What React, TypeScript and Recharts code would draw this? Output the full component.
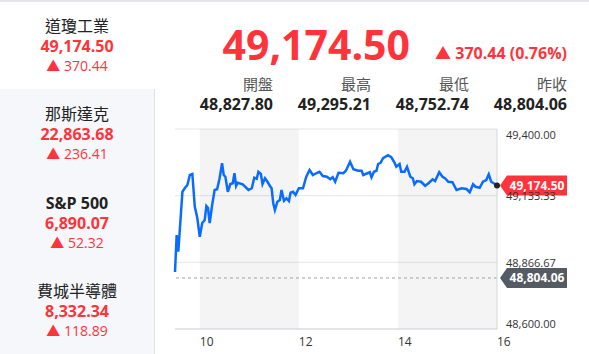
import React from 'react';
import {
  LineChart,
  Line,
  XAxis,
  YAxis,
  CartesianGrid,
  ReferenceArea,
  ReferenceLine,
  ReferenceDot,
} from 'recharts';

// minutes since 9:30 open
const minutes = [
  0, 2, 4, 9, 12, 15, 18, 21, 24, 27,
  30, 33, 36, 38, 40, 42, 45, 48, 51, 54,
  57, 59, 61, 64, 67, 70, 72, 74, 76, 82,
  89, 93, 96, 99, 101, 104, 106, 109, 112, 115,
  117, 119, 121, 124, 127, 129, 132, 135, 138, 140,
  143, 146, 150, 155, 159, 163, 167, 171, 175, 179,
  184, 188, 191, 194, 198, 204, 207, 212, 216, 222,
  226, 228, 233, 236, 238, 241, 244, 246, 249, 252,
  258, 262, 266, 268, 272, 274, 278, 281, 285, 288,
  290, 293, 298, 303, 307, 312, 315, 320, 324, 327,
  331, 336, 341, 347, 353, 357, 361, 364, 369, 373,
  377, 380, 383, 386, 390,
];

const prices = [
  48827.8, 48976, 48909, 49149, 49164, 49176, 49216, 49220, 49089, 49044,
  48969, 49024, 49036, 49092, 49084, 49024, 49096, 49156, 49159, 49203,
  49263, 49216, 49209, 49149, 49180, 49183, 49223, 49172, 49185, 49179,
  49156, 49163, 49205, 49201, 49229, 49220, 49180, 49203, 49189, 49172,
  49163, 49103, 49076, 49109, 49116, 49156, 49113, 49123, 49112, 49145,
  49149, 49136, 49163, 49163, 49209, 49236, 49216, 49223, 49229, 49212,
  49209, 49199, 49207, 49189, 49225, 49223, 49233, 49269, 49239, 49233,
  49233, 49216, 49223, 49227, 49207, 49229, 49233, 49260, 49265, 49283,
  49295, 49287, 49265, 49249, 49260, 49229, 49229, 49249, 49209, 49203,
  49179, 49192, 49189, 49173, 49183, 49199, 49192, 49227, 49209, 49203,
  49189, 49187, 49156, 49163, 49160, 49147, 49179, 49169, 49165, 49189,
  49196, 49219, 49189, 49183, 49174.5,
];

const hourTicks = [30, 150, 270, 390];
const hourLabels = ['10', '12', '14', '16'];
const shadedRanges = [
  [30, 150],
  [270, 390],
];
const priceTicks = [48600, 48866.67, 49133.33, 49400];

const lastPrice = 49174.5;
const prevClose = 48804.06;
const change = 370.44;
const changePct = 0.76;

const statLabels = ['開盤', '最高', '最低', '昨收'];
const statValues = [48827.8, 49295.21, 48752.74, 48804.06];

const indexNames = ['道瓊工業', '那斯達克', 'S&P 500', '費城半導體'];
const indexValues = [49174.5, 22863.68, 6890.07, 8332.34];
const indexChanges = [370.44, 236.41, 52.32, 118.89];

const data = minutes.map((m, i) => ({ m, price: prices[i] }));

const FONT = '"Open Sans", "Noto Sans CJK TC", sans-serif';
const RED = '#ff333a';
const fmt = (v: number) =>
  v.toLocaleString('en-US', { minimumFractionDigits: 2, maximumFractionDigits: 2 });

type TxtProps = {
  x: number;
  y: number;
  size: number;
  color: string;
  bold?: boolean;
  anchor?: 'start' | 'middle' | 'end';
  children: React.ReactNode;
};

function Txt({ x, y, size, color, bold, anchor = 'start', children }: TxtProps) {
  const shift = anchor === 'middle' ? '-50%' : anchor === 'end' ? '-100%' : '0';
  return (
    <div
      style={{
        position: 'absolute',
        left: x,
        top: y - size * 0.53,
        fontSize: size,
        lineHeight: `${size}px`,
        color,
        fontWeight: bold ? 700 : 400,
        whiteSpace: 'nowrap',
        transform: `translateX(${shift})`,
      }}
    >
      {children}
    </div>
  );
}

const Tag = (props: any) => {
  const { viewBox, fill, text } = props;
  const x0 = viewBox.x + viewBox.width + 3;
  const y = viewBox.y;
  return (
    <g>
      <path
        d={`M${x0},${y} L${x0 + 7},${y - 10} L${x0 + 67},${y - 10} L${x0 + 67},${y + 10} L${x0 + 7},${y + 10} Z`}
        fill={fill}
      />
      <text
        x={x0 + 37}
        y={y}
        textAnchor="middle"
        dominantBaseline="central"
        fill="#fff"
        fontSize={12}
        fontWeight={700}
        fontFamily={FONT}
      >
        {text}
      </text>
    </g>
  );
};

const PriceTick = (props: any) => {
  const { x, y, payload, index } = props;
  const dy = index === priceTicks.length - 1 ? 5 : index === 0 ? -6 : 0;
  return (
    <text
      x={x + 1}
      y={y + dy}
      textAnchor="start"
      dominantBaseline="central"
      fill="#333"
      fontSize={11}
      fontFamily={FONT}
    >
      {fmt(payload.value)}
    </text>
  );
};

const HourTick = (props: any) => {
  const { x, y, index } = props;
  return (
    <text x={x} y={y + 4} textAnchor="start" dominantBaseline="central" fill="#333" fontSize={12} fontFamily={FONT}>
      {hourLabels[index]}
    </text>
  );
};

export default function App() {
  const cardH = 88.5;
  const colRight = [273, 371, 469, 567];

  return (
    <div
      style={{
        position: 'absolute',
        left: 0,
        top: 0,
        width: 589,
        height: 354,
        background: '#fff',
        fontFamily: FONT,
        overflow: 'hidden',
      }}
    >
      <div style={{ position: 'absolute', left: 0, top: 0, width: 589, height: 2, background: '#e4e6ea' }} />

      {indexNames.map((name, i) => {
        const top = i * cardH;
        return (
          <React.Fragment key={name}>
            <div
              style={{
                position: 'absolute',
                left: 0,
                top: i === 0 ? 2 : top,
                width: 154,
                height: i === 0 ? cardH - 2 : cardH,
                background: i === 0 ? '#fff' : '#f5f7fa',
                borderRight: i === 0 ? 'none' : '1px solid #dde1e6',
                borderBottom: i < 3 ? '1px solid #dde1e6' : 'none',
              }}
            />
            <Txt x={77} y={top + 26} size={16} color="#222" bold={name === 'S&P 500'} anchor="middle">
              {name}
            </Txt>
            <Txt x={77} y={top + 46} size={16} color={RED} bold anchor="middle">
              {fmt(indexValues[i])}
            </Txt>
            <Txt x={77} y={top + 66} size={14} color={RED} anchor="middle">
              ▲ {fmt(indexChanges[i])}
            </Txt>
          </React.Fragment>
        );
      })}

      <Txt x={410} y={46} size={41} color={RED} bold anchor="end">
        {fmt(lastPrice)}
      </Txt>
      <Txt x={567} y={53} size={16} color={RED} bold anchor="end">
        ▲ {fmt(change)} ({changePct.toFixed(2)}%)
      </Txt>

      {statLabels.map((lab, i) => (
        <React.Fragment key={lab}>
          <Txt x={colRight[i]} y={85} size={15} color="#555" anchor="end">
            {lab}
          </Txt>
          <Txt x={colRight[i]} y={104} size={16} color="#222" bold anchor="end">
            {fmt(statValues[i])}
          </Txt>
        </React.Fragment>
      ))}

      <div style={{ position: 'absolute', left: 160, top: 120 }}>
        <LineChart width={429} height={234} data={data} margin={{ top: 9, right: 12, bottom: 0, left: 15 }}>
          {shadedRanges.map(([a, b]) => (
            <ReferenceArea key={a} x1={a} x2={b} fill="#000" fillOpacity={0.045} stroke="none" />
          ))}
          <CartesianGrid vertical={false} stroke="#e6e6e6" />
          <XAxis
            dataKey="m"
            type="number"
            domain={[0, 390]}
            ticks={hourTicks}
            tick={<HourTick />}
            tickLine={false}
            axisLine={{ stroke: '#d3d6de' }}
            height={25}
            interval={0}
          />
          <YAxis
            orientation="right"
            type="number"
            domain={[48600, 49400]}
            ticks={priceTicks}
            tick={<PriceTick />}
            tickLine={false}
            axisLine={{ stroke: '#d3d6de' }}
            width={80}
            interval={0}
          />
          <ReferenceLine y={prevClose} stroke="#a0a0a0" strokeDasharray="3 3" label={<Tag fill="#555b62" text={fmt(prevClose)} />} />
          <Line
            type="linear"
            dataKey="price"
            stroke="#0a6cff"
            strokeWidth={2.5}
            dot={false}
            isAnimationActive={false}
          />
          <ReferenceLine y={lastPrice} stroke="none" label={<Tag fill={RED} text={fmt(lastPrice)} />} />
          <ReferenceDot x={390} y={lastPrice} r={3} fill="#222" stroke="none" />
        </LineChart>
      </div>
    </div>
  );
}
